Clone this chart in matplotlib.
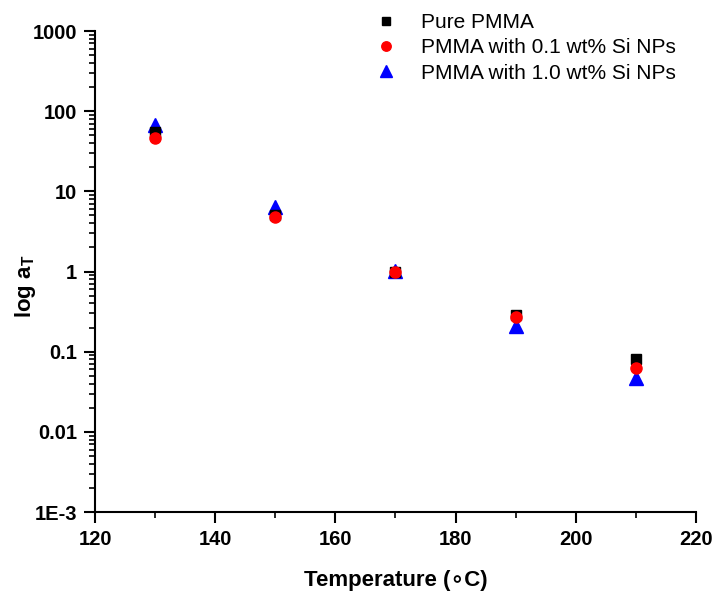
import matplotlib
matplotlib.use("Agg")
import matplotlib.pyplot as plt
from matplotlib.ticker import FixedLocator, FixedFormatter, LogLocator, MultipleLocator

plt.rcParams['font.family'] = ['Liberation Sans', 'DejaVu Sans']
plt.rcParams['mathtext.fontset'] = 'custom'
plt.rcParams['mathtext.rm'] = 'Liberation Sans:bold'
plt.rcParams['mathtext.bf'] = 'Liberation Sans:bold'

temperature = [130, 150, 170, 190, 210]
pure_pmma = [55, 5.0, 1.0, 0.29, 0.082]
pmma_01 = [46, 4.8, 1.0, 0.27, 0.063]
pmma_10 = [67, 6.3, 1.02, 0.21, 0.047]
series_labels = ["Pure PMMA", "PMMA with 0.1 wt% Si NPs", "PMMA with 1.0 wt% Si NPs"]
y_ticks = [1e-3, 1e-2, 1e-1, 1, 10, 100, 1000]
y_tick_labels = ["1E-3", "0.01", "0.1", "1", "10", "100", "1000"]
x_ticks = [120, 140, 160, 180, 200, 220]

fig = plt.figure(figsize=(7.17, 5.92), dpi=100)
ax = fig.add_axes([0.1325, 0.1351, 0.8382, 0.8125])

ax.plot(temperature, pure_pmma, 's', color='black', markersize=7, linestyle='none', label=series_labels[0], zorder=3)
ax.plot(temperature, pmma_01, 'o', color='red', markersize=8, linestyle='none', label=series_labels[1], zorder=4)
ax.plot(temperature, pmma_10, '^', color='blue', markersize=10, linestyle='none', label=series_labels[2], zorder=2)

ax.set_yscale('log')
ax.set_xlim(120, 220)
ax.set_ylim(1e-3, 1000)
ax.xaxis.set_major_locator(FixedLocator(x_ticks))
ax.xaxis.set_minor_locator(MultipleLocator(10))
ax.yaxis.set_major_locator(FixedLocator(y_ticks))
ax.yaxis.set_major_formatter(FixedFormatter(y_tick_labels))
ax.yaxis.set_minor_locator(LogLocator(base=10, subs=range(2, 10), numticks=20))
ax.yaxis.set_minor_formatter(FixedFormatter([]))

for s in ['top', 'right']:
    ax.spines[s].set_visible(False)
for s in ['left', 'bottom']:
    ax.spines[s].set_linewidth(1.5)

ax.tick_params(which='major', direction='out', length=8, width=1.5, labelsize=14.5, pad=5)
ax.tick_params(which='minor', direction='out', length=4, width=1.2)
for lab in ax.get_xticklabels() + ax.get_yticklabels():
    lab.set_fontweight('bold')

ax.set_xlabel('Temperature (\u2218C)', fontsize=16, fontweight='bold', labelpad=15)
ax.set_ylabel(r'log a$_{\mathrm{T}}$', fontsize=16, fontweight='bold')
ax.yaxis.set_label_coords(-0.095, 0.47)

leg = ax.legend(loc='upper right', bbox_to_anchor=(0.998, 1.076), frameon=False, fontsize=15,
                handletextpad=0.9, labelspacing=0.3, markerscale=0.85, handlelength=1.6)

fig.savefig('out.png', dpi=100)
